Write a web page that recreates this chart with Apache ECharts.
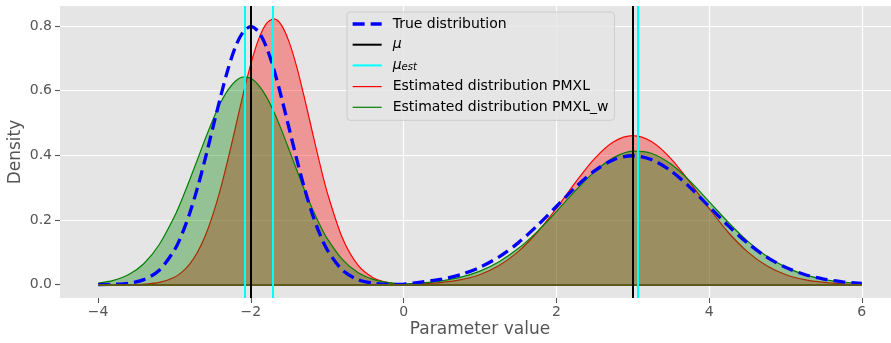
<!DOCTYPE html>
<html>
<head>
<meta charset="utf-8">
<script src="https://cdn.jsdelivr.net/npm/echarts@6.0.0/dist/echarts.min.js"></script>
<style>
  html, body { margin: 0; padding: 0; background: #fff; }
  #chart { width: 891px; height: 343px; }
</style>
</head>
<body>
<div id="chart"></div>
<script>
// parameter grid (finer around the narrow left peak)
var xVals = [-4, -3.8, -3.6, -3.4, -3.2, -3.0, -2.9, -2.8, -2.7, -2.6, -2.5, -2.4, -2.3, -2.2, -2.1,
  -2.0, -1.9, -1.8, -1.7, -1.6, -1.5, -1.4, -1.3, -1.2, -1.1, -1.0, -0.8, -0.6, -0.4, -0.2, 0,
  0.25, 0.5, 0.75, 1, 1.25, 1.5, 1.75, 2, 2.25, 2.5, 2.75, 3, 3.25, 3.5, 3.75, 4, 4.25, 4.5,
  4.75, 5, 5.25, 5.5, 5.75, 6];

var trueDensity = [0.0003, 0.0012, 0.0048, 0.0158, 0.0448, 0.108, 0.158, 0.222, 0.2995, 0.388, 0.484,
  0.579, 0.6666, 0.737, 0.7822, 0.798, 0.7822, 0.737, 0.6666, 0.579, 0.484, 0.388, 0.2995, 0.222,
  0.158, 0.108, 0.0448, 0.0158, 0.0048, 0.0012, 0.002,
  0.0091, 0.0175, 0.0317, 0.054, 0.0863, 0.1295, 0.1827, 0.242, 0.3012, 0.3521, 0.3867, 0.3989,
  0.3867, 0.3521, 0.3012, 0.242, 0.1827, 0.1295, 0.0863, 0.054, 0.0317, 0.0175, 0.0091, 0.0044];

var pmxlDensity = [0, 0.0001, 0.0004, 0.0018, 0.0071, 0.0234, 0.0397, 0.0646, 0.1007, 0.150, 0.2152,
  0.295, 0.3883, 0.489, 0.591, 0.684, 0.7588, 0.807, 0.822, 0.803, 0.7511, 0.674, 0.579, 0.477,
  0.3766, 0.285, 0.1436, 0.0611, 0.0219, 0.0066, 0.0015,
  0.0029, 0.0071, 0.0156, 0.0318, 0.0596, 0.1025, 0.1623, 0.2363, 0.3166, 0.39, 0.4421, 0.461,
  0.4421, 0.39, 0.3166, 0.2363, 0.1623, 0.1025, 0.0596, 0.0318, 0.0156, 0.0071, 0.0029, 0.0011];

var pmxlWDensity = [0.0052, 0.0135, 0.0314, 0.0658, 0.1244, 0.2118, 0.2658, 0.3252, 0.3875, 0.4499,
  0.5089, 0.561, 0.6024, 0.6303, 0.6425, 0.6382, 0.6176, 0.5824, 0.535, 0.4789, 0.4176, 0.3549,
  0.2938, 0.237, 0.1863, 0.1426, 0.0774, 0.0378, 0.0166, 0.0066, 0.0025,
  0.0059, 0.0122, 0.0234, 0.0422, 0.071, 0.1118, 0.1644, 0.2262, 0.2909, 0.3497, 0.3931, 0.4132,
  0.406, 0.3731, 0.3204, 0.2573, 0.1933, 0.1357, 0.089, 0.0546, 0.0314, 0.0168, 0.0084, 0.004];

var muTrue = [-2, 3];
var muEst = [-2.076, -1.706, 3.069];

var xTicks = [-4, -2, 0, 2, 4, 6];
var yTicks = [0, 0.2, 0.4, 0.6, 0.8];

function pairs(ys) {
  return xVals.map(function (x, i) { return [x, ys[i]]; });
}
function vlines(vals) {
  return vals.map(function (v) { return { xAxis: v }; });
}

var font = 'DejaVu Sans';
var grey = '#555555';
var clear = 'rgba(0,0,0,0)';

var myChart = echarts.init(document.getElementById('chart'), null, { renderer: 'canvas' });

myChart.setOption({
  animation: false,
  textStyle: { fontFamily: font },
  grid: {
    left: 60, right: -9, top: 6, bottom: 45,
    outerBoundsMode: 'none', containLabel: false,
    show: true, backgroundColor: '#E5E5E5', borderWidth: 0
  },
  legend: {
    orient: 'vertical',
    left: 347, top: 12,
    padding: [5, 6, 6, 4],
    itemWidth: 29, itemHeight: 14, itemGap: 6.7,
    backgroundColor: 'rgba(229,229,229,0.8)',
    borderColor: '#CCCCCC', borderWidth: 1, borderRadius: 3,
    selectedMode: false,
    itemStyle: { opacity: 0 },
    data: [
      { name: 'True distribution', lineStyle: { color: '#0000FF', width: 3.3, type: [12, 6], cap: 'butt' } },
      { name: 'mu', lineStyle: { color: '#000000', width: 2, type: 'solid' } },
      { name: 'mu_est', lineStyle: { color: '#00FFFF', width: 2, type: 'solid' } },
      { name: 'Estimated distribution PMXL', lineStyle: { color: '#FF0000', width: 1.2, type: 'solid' } },
      { name: 'Estimated distribution PMXL_w', lineStyle: { color: '#008000', width: 1.2, type: 'solid' } }
    ],
    formatter: function (name) {
      if (name === 'mu') return '{i|μ}';
      if (name === 'mu_est') return '{i|μ}{s|est}';
      return name;
    },
    textStyle: {
      fontFamily: font, fontSize: 14, color: '#000', padding: [0, 0, 0, 6],
      rich: {
        i: { fontFamily: font, fontStyle: 'italic', fontSize: 14, color: '#000' },
        s: { fontFamily: font, fontStyle: 'italic', fontSize: 10, color: '#000', padding: [5, 0, 0, 0] }
      }
    }
  },
  xAxis: {
    type: 'value',
    min: -4.5, max: 6.5,
    name: 'Parameter value', nameLocation: 'middle', nameGap: 23, nameMoveOverlap: false,
    nameTextStyle: { fontFamily: font, fontSize: 17, color: grey },
    axisLine: { show: false, onZero: false },
    axisTick: { show: true, length: 5, customValues: xTicks, lineStyle: { color: grey, width: 1.1 } },
    axisLabel: {
      customValues: xTicks, margin: 7, fontFamily: font, fontSize: 14, color: grey,
      formatter: function (v) { return v < 0 ? '\u2212' + Math.abs(v) : String(v); }
    },
    splitLine: { show: true, lineStyle: { color: [clear, '#fff', '#fff', '#fff', '#fff', '#fff', '#fff', clear], width: 1.2 } }
  },
  yAxis: {
    type: 'value',
    min: -0.041, max: 0.862,
    name: 'Density', nameLocation: 'middle', nameGap: 36, nameRotate: 90, nameMoveOverlap: false,
    nameTextStyle: { fontFamily: font, fontSize: 17, color: grey },
    axisLine: { show: false, onZero: false },
    axisTick: { show: true, length: 5, customValues: yTicks, lineStyle: { color: grey, width: 1.1 } },
    axisLabel: {
      customValues: yTicks, margin: 8, fontFamily: font, fontSize: 14, color: grey,
      formatter: function (v) { return v.toFixed(1); }
    },
    splitLine: { show: true, lineStyle: { color: [clear, '#fff', '#fff', '#fff', '#fff', '#fff', clear], width: 1.2 } }
  },
  series: [
    {
      name: 'Estimated distribution PMXL',
      type: 'line', data: pairs(pmxlDensity),
      smooth: 0.3, symbol: 'none', color: '#FF0000',
      lineStyle: { color: '#FF0000', width: 1.2 },
      areaStyle: { color: '#FF0000', opacity: 0.35 },
      z: 2
    },
    {
      name: 'Estimated distribution PMXL_w',
      type: 'line', data: pairs(pmxlWDensity),
      smooth: 0.3, symbol: 'none', color: '#008000',
      lineStyle: { color: '#008000', width: 1.2 },
      areaStyle: { color: '#008000', opacity: 0.35 },
      // dark edge along the bottom of both fills
      markLine: {
        silent: true, symbol: ['none', 'none'], label: { show: false },
        lineStyle: { color: '#5E5A1C', width: 2, type: 'solid' },
        data: [[{ coord: [xVals[0], 0] }, { coord: [xVals[xVals.length - 1], 0] }]]
      },
      z: 3
    },
    {
      name: 'True distribution',
      type: 'line', data: pairs(trueDensity),
      smooth: 0.3, symbol: 'none', color: '#0000FF',
      lineStyle: { color: '#0000FF', width: 3.3, type: [12, 6], cap: 'butt' },
      z: 4
    },
    {
      name: 'mu',
      type: 'line', data: [], symbol: 'none', color: '#000000',
      lineStyle: { color: '#000000', width: 2 },
      markLine: {
        silent: true, symbol: ['none', 'none'], label: { show: false },
        lineStyle: { color: '#000000', width: 2, type: 'solid' },
        data: vlines(muTrue)
      },
      z: 5
    },
    {
      name: 'mu_est',
      type: 'line', data: [], symbol: 'none', color: '#00FFFF',
      lineStyle: { color: '#00FFFF', width: 2 },
      markLine: {
        silent: true, symbol: ['none', 'none'], label: { show: false },
        lineStyle: { color: '#00FFFF', width: 2, type: 'solid' },
        data: vlines(muEst)
      },
      z: 5
    }
  ]
});
</script>
</body>
</html>
